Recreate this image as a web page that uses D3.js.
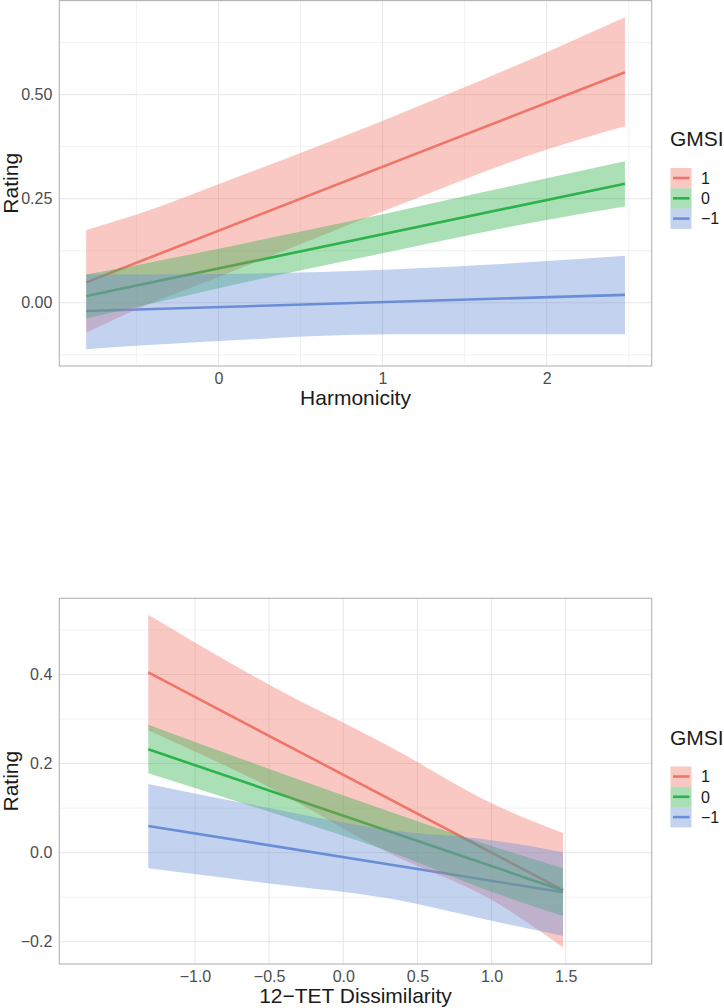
<!DOCTYPE html>
<html>
<head>
<meta charset="utf-8">
<script src="https://cdn.jsdelivr.net/npm/d3@7"></script>
<style>
  html, body { margin: 0; padding: 0; background: #ffffff; }
  svg { display: block; font-family: "Liberation Sans", Arial, Helvetica, sans-serif; }
</style>
</head>
<body>
<svg id="chart" width="724" height="1008"></svg>
<script>
// ---------------- DATA ----------------
const groups = ["1", "0", "\u22121"];
const groupColors = ["#F0766A", "#2CB24C", "#6A8ED6"];

// Panel 1: Harmonicity
const harmX = [-0.806, -0.477, 0, 1.05, 2, 2.477];
const harmUpper = [
  [0.175, 0.215, 0.285, 0.445, 0.602, 0.686],   // GMSI 1
  [0.068, 0.092, 0.130, 0.217, 0.299, 0.340],   // GMSI 0
  [0.068, 0.068, 0.069, 0.080, 0.100, 0.113]    // GMSI -1
];
const harmLower = [
  [-0.072, -0.012, 0.062, 0.227, 0.368, 0.424],
  [-0.038, -0.008, 0.035, 0.123, 0.199, 0.231],
  [-0.112, -0.103, -0.092, -0.076, -0.076, -0.076]
];
const harmLineX = [-0.806, 2.477];
const harmLine = [
  [0.049, 0.554],
  [0.016, 0.286],
  [-0.020, 0.019]
];
const harmXTicks = [0, 1, 2];
const harmXMinor = [-0.5, 0.5, 1.5, 2.5];
const harmYTicks = [0, 0.25, 0.5];
const harmYLabels = ["0.00", "0.25", "0.50"];
const harmYMinor = [-0.125, 0.125, 0.375, 0.625];

// Panel 2: 12-TET Dissimilarity
const tetX = [-1.315, -0.5, 0.315, 1.0, 1.482];
const tetUpper = [
  [0.534, 0.377, 0.238, 0.111, 0.044],
  [0.287, 0.188, 0.092, 0.015, -0.035],
  [0.154, 0.100, 0.050, 0.028, 0.001]
];
const tetLower = [
  [0.275, 0.147, -0.002, -0.106, -0.213],
  [0.178, 0.092, 0.002, -0.088, -0.142],
  [-0.035, -0.069, -0.103, -0.153, -0.187]
];
const tetLineX = [-1.315, 1.482];
const tetLine = [
  [0.4045, -0.084],
  [0.232, -0.085],
  [0.060, -0.089]
];
const tetXTicks = [-1.0, -0.5, 0, 0.5, 1.0, 1.5];
const tetXLabels = ["\u22121.0", "\u22120.5", "0.0", "0.5", "1.0", "1.5"];
const tetYTicks = [-0.2, 0, 0.2, 0.4];
const tetYLabels = ["\u22120.2", "0.0", "0.2", "0.4"];
const tetYMinor = [-0.1, 0.1, 0.3, 0.5];

// ---------------- DRAW ----------------
const svg = d3.select("#chart");

function panel(cfg) {
  const x = d3.scaleLinear().domain(cfg.xDomain).range([cfg.left, cfg.right]);
  const y = d3.scaleLinear().domain(cfg.yDomain).range([cfg.bottom, cfg.top]);
  const g = svg.append("g");

  // minor grid
  g.selectAll(".ymin").data(cfg.yMinor).join("line")
    .attr("x1", cfg.left).attr("x2", cfg.right)
    .attr("y1", d => y(d)).attr("y2", d => y(d))
    .attr("stroke", "#EFEFEF").attr("stroke-width", 0.8);
  g.selectAll(".xmin").data(cfg.xMinor).join("line")
    .attr("y1", cfg.top).attr("y2", cfg.bottom)
    .attr("x1", d => x(d)).attr("x2", d => x(d))
    .attr("stroke", "#EFEFEF").attr("stroke-width", 0.8);
  // major grid
  g.selectAll(".ymaj").data(cfg.yTicks).join("line")
    .attr("x1", cfg.left).attr("x2", cfg.right)
    .attr("y1", d => y(d)).attr("y2", d => y(d))
    .attr("stroke", "#E6E6E6").attr("stroke-width", 1);
  g.selectAll(".xmaj").data(cfg.xTicks).join("line")
    .attr("y1", cfg.top).attr("y2", cfg.bottom)
    .attr("x1", d => x(d)).attr("x2", d => x(d))
    .attr("stroke", "#E6E6E6").attr("stroke-width", 1);

  // lines first (ribbons are layered over them)
  const line = d3.line().x(d => x(d[0])).y(d => y(d[1]));
  cfg.line.forEach((vals, i) => {
    g.append("path")
      .attr("d", line(cfg.lineX.map((xx, j) => [xx, vals[j]])))
      .attr("fill", "none")
      .attr("stroke", groupColors[i])
      .attr("stroke-width", 2.6);
  });

  // ribbons
  const area = d3.area()
    .curve(d3.curveMonotoneX)
    .x(d => x(d.x)).y0(d => y(d.lo)).y1(d => y(d.hi));
  cfg.upper.forEach((up, i) => {
    const pts = cfg.ribX.map((xx, j) => ({ x: xx, lo: cfg.lower[i][j], hi: up[j] }));
    g.append("path")
      .attr("d", area(pts))
      .attr("fill", groupColors[i])
      .attr("fill-opacity", 0.4);
  });

  // border
  g.append("rect")
    .attr("x", cfg.left).attr("y", cfg.top)
    .attr("width", cfg.right - cfg.left).attr("height", cfg.bottom - cfg.top)
    .attr("fill", "none").attr("stroke", "#B3B3B3").attr("stroke-width", 1.1);

  // axes via d3 axis
  const xAxis = d3.axisBottom(x).tickValues(cfg.xTicks)
    .tickFormat((d, i) => cfg.xLabels[i]).tickSize(0).tickPadding(7);
  const xg = g.append("g").attr("transform", `translate(0,${cfg.bottom})`).call(xAxis);
  xg.select(".domain").remove();
  xg.selectAll("text").attr("font-size", 16).attr("fill", "#4D4D4D")
    .attr("font-family", "Liberation Sans, Arial, sans-serif");

  const yAxis = d3.axisLeft(y).tickValues(cfg.yTicks)
    .tickFormat((d, i) => cfg.yLabels[i]).tickSize(0).tickPadding(7);
  const yg = g.append("g").attr("transform", `translate(${cfg.left},0)`).call(yAxis);
  yg.select(".domain").remove();
  yg.selectAll("text").attr("font-size", 16).attr("fill", "#4D4D4D")
    .attr("font-family", "Liberation Sans, Arial, sans-serif");

  // titles
  g.append("text")
    .attr("x", (cfg.left + cfg.right) / 2).attr("y", cfg.bottom + 39)
    .attr("text-anchor", "middle").attr("font-size", 21).attr("fill", "#1A1A1A")
    .text(cfg.xTitle);
  g.append("text")
    .attr("transform", `translate(18,${(cfg.top + cfg.bottom) / 2}) rotate(-90)`)
    .attr("text-anchor", "middle").attr("font-size", 21).attr("fill", "#1A1A1A")
    .text("Rating");

  // legend
  const lg = g.append("g");
  lg.append("text")
    .attr("x", 670).attr("y", cfg.legendY - 22)
    .attr("font-size", 21).attr("fill", "#1A1A1A").text("GMSI");
  groups.forEach((name, i) => {
    const ky = cfg.legendY + i * 20.3;
    lg.append("line")
      .attr("x1", 673).attr("x2", 689.5)
      .attr("y1", ky + 10).attr("y2", ky + 10)
      .attr("stroke", groupColors[i]).attr("stroke-width", 2.6);
    lg.append("rect")
      .attr("x", 670.5).attr("y", ky).attr("width", 21).attr("height", 20.3)
      .attr("fill", groupColors[i]).attr("fill-opacity", 0.4);
    lg.append("text")
      .attr("x", 701).attr("y", ky + 10).attr("dy", "0.36em")
      .attr("font-size", 16).attr("fill", "#1A1A1A").text(name);
  });
}

panel({
  left: 59.3, right: 651.7, top: 0.6, bottom: 366,
  xDomain: [-0.97, 2.64], yDomain: [-0.152, 0.726],
  xTicks: harmXTicks, xLabels: harmXTicks.map(String), xMinor: harmXMinor,
  yTicks: harmYTicks, yLabels: harmYLabels, yMinor: harmYMinor,
  ribX: harmX, upper: harmUpper, lower: harmLower,
  lineX: harmLineX, line: harmLine,
  xTitle: "Harmonicity", legendY: 168
});

panel({
  left: 59.3, right: 651.7, top: 598.3, bottom: 964,
  xDomain: [-1.915, 2.08], yDomain: [-0.25, 0.571],
  xTicks: tetXTicks, xLabels: tetXLabels, xMinor: [],
  yTicks: tetYTicks, yLabels: tetYLabels, yMinor: tetYMinor,
  ribX: tetX, upper: tetUpper, lower: tetLower,
  lineX: tetLineX, line: tetLine,
  xTitle: "12\u2212TET Dissimilarity", legendY: 766.5
});
</script>
</body>
</html>
